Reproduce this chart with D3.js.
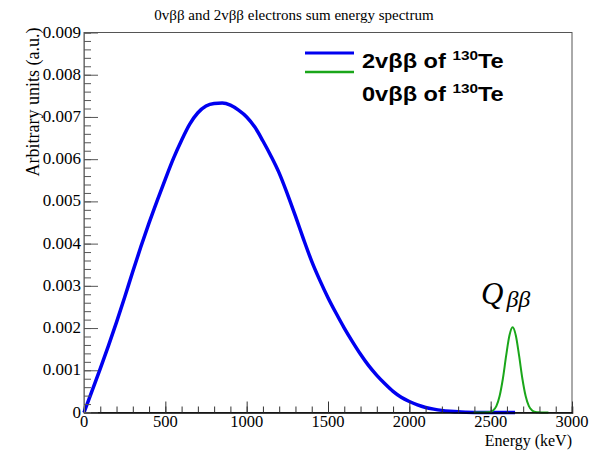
<!DOCTYPE html>
<html>
<head>
<meta charset="utf-8">
<script src="https://cdn.jsdelivr.net/npm/d3@7"></script>
<style>
  body { margin: 0; background: #fff; }
</style>
</head>
<body>
<script>
// Energy grid (keV) and 2vbb spectrum values
const energy2v = [0, 50, 100, 150, 200, 250, 300, 350, 400, 450, 500, 550, 600, 650, 700, 750, 800, 850,
    900, 950, 1000, 1050, 1100, 1150, 1200, 1250, 1300, 1350, 1400, 1450, 1500, 1550, 1600, 1650, 1700,
    1750, 1800, 1850, 1900, 1950, 2000, 2050, 2100, 2150, 2200, 2250, 2300, 2350, 2400, 2450, 2500, 2550, 2600, 2650];
const values2v = [0, 0.00052, 0.00104, 0.00158, 0.00214, 0.00273, 0.00334, 0.00393, 0.00449, 0.00502, 0.00553,
    0.00602, 0.00645, 0.00683, 0.00710, 0.00726, 0.00732, 0.00733,
    0.00728, 0.00716, 0.00700, 0.00676, 0.00643, 0.00607, 0.00567, 0.00518, 0.00465, 0.00410, 0.00358, 0.00313,
    0.00272, 0.00235, 0.00200, 0.00168, 0.00138, 0.00111, 0.00088, 0.00068, 0.00050, 0.00036, 0.00026, 0.00018,
    0.00012, 0.00008, 0.00005, 0.00003, 0.000015, 0.000007, 0.000002, 0, 0, 0, 0, 0];

// 0vbb peak around 2635 keV
const energy0v = [2395, 2415, 2435, 2455, 2475, 2495, 2515, 2535, 2555, 2575, 2595, 2615, 2635,
    2655, 2675, 2695, 2715, 2735, 2755, 2775, 2795, 2815, 2835, 2855];
const values0v = [0, 0, 0, 0.000001, 0.000003, 0.000013, 0.00005, 0.00015, 0.00039, 0.00080, 0.00134, 0.00182,
    0.00202, 0.00182, 0.00134, 0.00080, 0.00039, 0.00015, 0.00005, 0.000013, 0.000003, 0.000001, 0, 0];

const xTicks = [0, 500, 1000, 1500, 2000, 2500, 3000];
const yTicks = [0, 0.001, 0.002, 0.003, 0.004, 0.005, 0.006, 0.007, 0.008, 0.009];

const width = 599;
const height = 450;
const marginTop = 32.5;
const marginRight = 27;
const marginBottom = 37.5;
const marginLeft = 84;

const svg = d3.select("body").append("svg")
    .attr("width", width)
    .attr("height", height)
    .attr("viewBox", [0, 0, width, height]);

const x = d3.scaleLinear()
    .domain([0, 3000])
    .range([marginLeft, width - marginRight]);

const y = d3.scaleLinear()
    .domain([0, 0.009])
    .range([height - marginBottom, marginTop]);

const serif = "'Liberation Serif', 'Times New Roman', serif";
const sans = "'Liberation Sans', Arial, sans-serif";

// Frame
svg.append("rect")
    .attr("x", marginLeft)
    .attr("y", marginTop)
    .attr("width", width - marginRight - marginLeft)
    .attr("height", height - marginBottom - marginTop)
    .attr("fill", "none")
    .attr("stroke", "#555")
    .attr("stroke-width", 1);

// Curves
const line = d3.line()
    .x(d => x(d[0]))
    .y(d => y(d[1]))
    .curve(d3.curveMonotoneX);

svg.append("path")
    .datum(energy2v.map((e, i) => [e, values2v[i]]))
    .attr("fill", "none")
    .attr("stroke", "#0000f0")
    .attr("stroke-width", 3.5)
    .attr("d", line);

svg.append("path")
    .datum(energy0v.map((e, i) => [e, values0v[i]]))
    .attr("fill", "none")
    .attr("stroke", "#1aa61a")
    .attr("stroke-width", 2)
    .attr("d", line);

// X axis (ticks pointing into the plot)
svg.append("g")
    .attr("transform", `translate(0,${height - marginBottom})`)
    .call(d3.axisTop(x).ticks(30).tickSize(6).tickFormat(""))
    .call(g => g.select(".domain").attr("stroke", "#000").attr("stroke-width", 1.5))
    .call(g => g.selectAll(".tick line").attr("stroke", "#333"));

svg.append("g")
    .attr("transform", `translate(0,${height - marginBottom})`)
    .call(d3.axisTop(x).tickValues(xTicks).tickSize(11).tickFormat(""))
    .call(g => g.select(".domain").remove())
    .call(g => g.selectAll(".tick line").attr("stroke", "#333"));

svg.append("g")
    .selectAll("text")
    .data(xTicks)
    .join("text")
    .attr("x", d => x(d))
    .attr("y", height - marginBottom + 14.5)
    .attr("text-anchor", "middle")
    .attr("font-family", serif)
    .attr("font-size", 16.5)
    .text(d => d);

// Y axis (ticks pointing into the plot)
svg.append("g")
    .attr("transform", `translate(${marginLeft},0)`)
    .call(d3.axisRight(y).ticks(45).tickSize(7).tickFormat(""))
    .call(g => g.select(".domain").attr("stroke", "#777"))
    .call(g => g.selectAll(".tick line").attr("stroke", "#555"));

svg.append("g")
    .attr("transform", `translate(${marginLeft},0)`)
    .call(d3.axisRight(y).tickValues(yTicks).tickSize(14).tickFormat(""))
    .call(g => g.select(".domain").remove())
    .call(g => g.selectAll(".tick line").attr("stroke", "#555"));

svg.append("g")
    .selectAll("text")
    .data(yTicks)
    .join("text")
    .attr("x", marginLeft - 3)
    .attr("y", d => y(d) + 5)
    .attr("text-anchor", "end")
    .attr("font-family", serif)
    .attr("font-size", 17)
    .text(d => d === 0 ? "0" : d3.format(".3f")(d));

// Axis titles
svg.append("text")
    .attr("x", width - marginRight)
    .attr("y", 446)
    .attr("text-anchor", "end")
    .attr("font-family", serif)
    .attr("font-size", 16)
    .text("Energy (keV)");

svg.append("text")
    .attr("transform", `translate(39,${marginTop - 5}) rotate(-90)`)
    .attr("text-anchor", "end")
    .attr("font-family", serif)
    .attr("font-size", 18)
    .text("Arbitrary units (a.u.)");

// Title
svg.append("text")
    .attr("x", 294)
    .attr("y", 20)
    .attr("text-anchor", "middle")
    .attr("font-family", serif)
    .attr("font-size", 15)
    .text("0vββ and 2vββ electrons sum energy spectrum");

// Legend
const legendColors = ["#0000f0", "#1aa61a"];
const legendLabels = ["2vββ of ", "0vββ of "];
const legendLineY = [53, 72];
const legendTextY = [68, 101];

legendColors.forEach((c, i) => {
    svg.append("line")
        .attr("x1", 305).attr("x2", 354)
        .attr("y1", legendLineY[i]).attr("y2", legendLineY[i])
        .attr("stroke", c)
        .attr("stroke-width", i === 0 ? 3 : 2.5);
    const t = svg.append("text")
        .attr("transform", `translate(362,${legendTextY[i]}) scale(1.18,1)`)
        .attr("font-family", sans)
        .attr("font-weight", "bold")
        .attr("font-size", 20)
        .text(legendLabels[i]);
    t.append("tspan").attr("font-size", 13).attr("dy", -8).text("130");
    t.append("tspan").attr("dy", 8).text("Te");
});

// Q label
const q = svg.append("text")
    .attr("x", 481)
    .attr("y", 304)
    .attr("font-family", serif)
    .attr("font-style", "italic")
    .attr("font-size", 31)
    .text("Q");
q.append("tspan").attr("font-size", 24).attr("dy", 3).attr("dx", 3).text("ββ");
</script>
</body>
</html>
